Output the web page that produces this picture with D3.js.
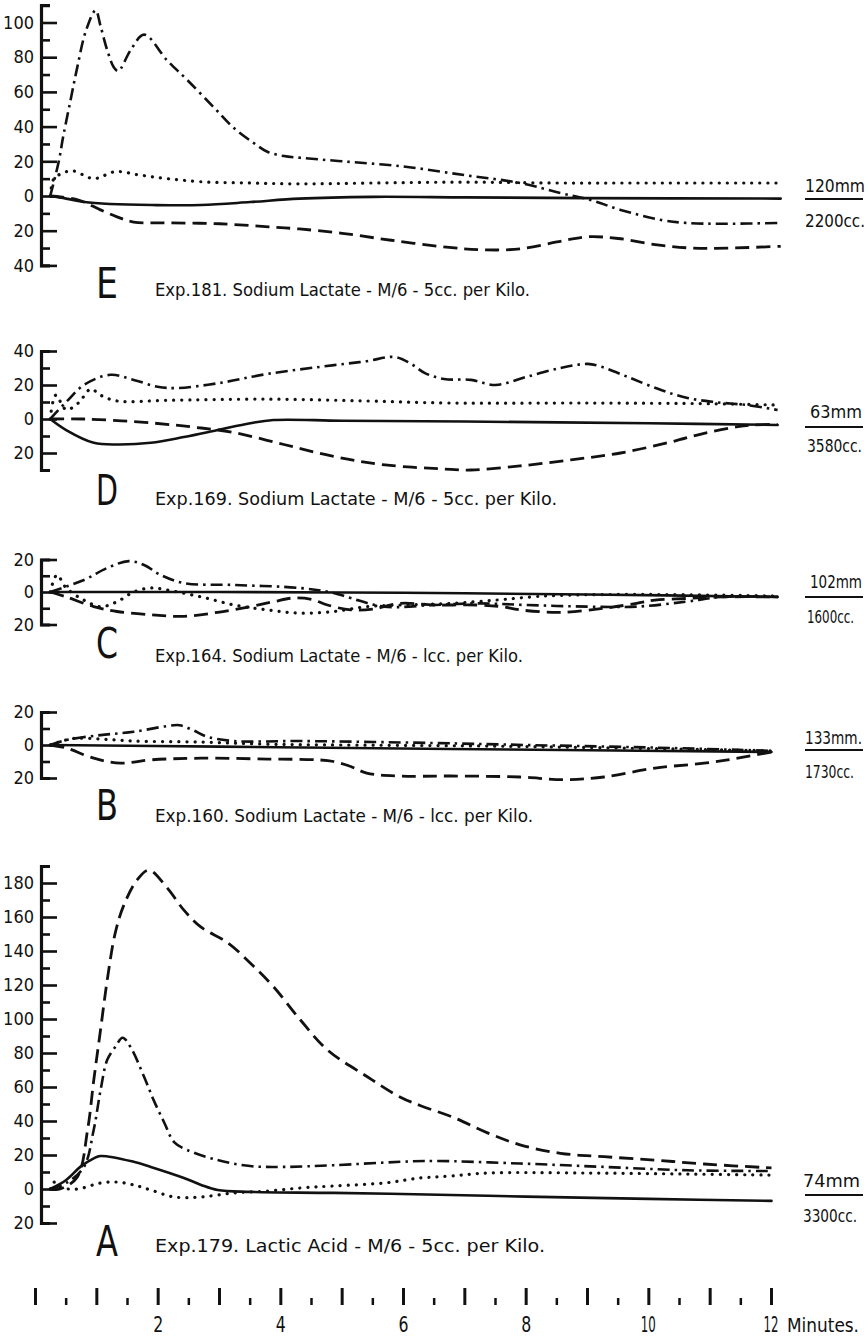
<!DOCTYPE html>
<html><head><meta charset="utf-8">
<script src="https://cdn.jsdelivr.net/npm/d3@7"></script>
<style>
html,body{margin:0;padding:0;background:#fff;}
svg{display:block;}
text{font-family:"DejaVu Sans Condensed","Liberation Sans Narrow",sans-serif;fill:#111;}
</style></head>
<body>
<script>
// ---------------- DATA (time in minutes, value in units) ----------------
const timeTicks = [0,0.5,1,1.5,2,2.5,3,3.5,4,4.5,5,5.5,6,6.5,7,7.5,8,8.5,9,9.5,10,10.5,11,11.5,12];
const timeLabels = [2,4,6,8,10,12];
const timeUnit = "Minutes.";

const panelLetters = ["E","D","C","B","A"];
const panelCaptions = [
  "Exp.181.  Sodium Lactate - M/6 - 5cc. per Kilo.",
  "Exp.169.  Sodium Lactate - M/6 - 5cc. per Kilo.",
  "Exp.164.  Sodium Lactate - M/6 - lcc. per Kilo.",
  "Exp.160.  Sodium Lactate - M/6 - lcc. per Kilo.",
  "Exp.179.  Lactic Acid - M/6 - 5cc. per Kilo."
];
const pressureLabels = ["120mm","63mm","102mm","133mm.","74mm"];
const volumeLabels = ["2200cc.","3580cc.","1600cc.","1730cc.","3300cc."];

const E_ticks = [-40,-30,-20,-10,0,10,20,30,40,50,60,70,80,90,100,110];
const E_labels = [-40,-20,0,20,40,60,80,100];
const D_ticks = [-30,-20,-10,0,10,20,30,40];
const D_labels = [-20,0,20,40];
const C_ticks = [-20,-10,0,10,20];
const C_labels = [-20,0,20];
const B_ticks = [-20,-10,0,10,20];
const B_labels = [-20,0,20];
const A_ticks = [-20,-10,0,10,20,30,40,50,60,70,80,90,100,110,120,130,140,150,160,170,180,190];
const A_labels = [-20,0,20,40,60,80,100,120,140,160,180];

// Panel E
const E_dashDot = [[0.24,0],[0.38,20],[0.45,34],[0.57,55],[0.68,74],[0.82,95],[0.98,107],[1.06,98],[1.17,84],[1.28,74],[1.35,72],[1.55,84],[1.77,93],[2.15,78],[2.47,67],[2.91,51],[3.24,39],[3.56,30.5],[3.78,25.5],[4.05,23],[4.32,22],[5,20],[6,17],[7,12],[7.9,7.5],[8.56,1.7],[9.05,-2.3],[9.54,-8],[10.2,-13.8],[10.6,-15.5],[11.2,-16],[12.15,-15.5]];
const E_dotted = [[0.24,0],[0.3,10],[0.4,12.5],[0.6,14.5],[0.95,10],[1.3,14],[1.71,12],[2.15,10],[2.7,8.2],[3.5,7.5],[4.3,7],[5.5,7.5],[7,8],[8.5,7.5],[10,7.5],[12.15,7.5]];
const E_solid = [[0.24,0],[0.5,-1.5],[0.8,-3.5],[1.22,-4.6],[1.9,-5.2],[2.7,-5.2],[3.5,-3.5],[4.3,-1.5],[5.5,-0.5],[7,-0.8],[9,-1.2],[12.15,-1.5]];
const E_dashed = [[0.24,0],[0.7,-2.3],[1.06,-8],[1.33,-12],[1.6,-15],[2.15,-15.5],[3,-16],[3.8,-17.8],[4.3,-19],[5,-21.5],[5.8,-25.5],[6.7,-29.5],[7.3,-31],[7.9,-30.5],[8.5,-26.5],[9,-23.5],[9.5,-24.5],[10.1,-28],[10.7,-30],[11.3,-30],[12.15,-29]];

// Panel D
const D_dashDot = [[0.24,0],[0.5,10],[0.79,20],[1.22,26],[1.6,23],[1.99,19],[2.3,18.2],[2.97,21],[3.78,26.5],[4.87,31.7],[5.4,34],[5.85,36.5],[6.1,33],[6.35,27],[6.66,23.5],[7.1,23],[7.5,20],[8.0,24.7],[8.56,30],[9.0,32.4],[9.2,31],[9.66,24.7],[10.2,17],[10.63,12.4],[11.06,10],[11.6,8.2],[12.1,5.3]];
const D_dotted = [[0.24,0],[0.33,14],[0.5,5.5],[0.7,9.4],[0.9,17.6],[1.06,14],[1.33,10.6],[2.15,11],[3.78,11.7],[5.4,10.6],[6.77,9.4],[9,9.4],[11,9],[12.1,8.2]];
const D_solid = [[0.24,0],[0.5,-6.5],[0.95,-14],[1.33,-15],[1.88,-14],[2.42,-10.6],[2.97,-6.5],[3.5,-2.5],[3.88,-0.6],[5,-1],[7,-1.5],[10,-2.5],[12.1,-3.5]];
const D_dashed = [[0.24,0],[0.79,0],[1.88,-2.3],[2.7,-5.3],[3.24,-8],[4.05,-15],[4.86,-22],[5.7,-27],[6.77,-29.6],[7.1,-30],[7.9,-27.6],[8.73,-24],[9.54,-20],[10.36,-13.5],[10.9,-8.4],[11.45,-4.5],[11.7,-3.5],[12.1,-3.2]];

// Panel C
const C_dashDot = [[0.24,0],[0.79,7.4],[1.17,14.8],[1.52,19],[1.77,16.6],[2.04,10.5],[2.42,5.5],[3.24,4.3],[4.3,2.5],[4.86,-0.6],[5.14,-3.7],[5.68,-9],[6.5,-8],[7.2,-7],[8,-8],[9,-9],[9.8,-9],[10.6,-6],[11.2,-3],[12.1,-3]];
const C_dotted = [[0.24,0],[0.35,10.5],[0.5,2.5],[0.79,-5],[1.06,-9],[1.33,-6],[1.6,0],[1.88,2.5],[2.15,1.2],[2.7,-3],[3.24,-8],[3.78,-11],[4.3,-13],[4.86,-12],[5.4,-9],[5.95,-8],[6.77,-7],[7.5,-5],[8.1,-3],[8.6,-2],[10,-1.5],[12.1,-2.5]];
const C_solid = [[0.24,0],[3,0],[6,-0.5],[9,-1.5],[12.1,-3]];
const C_dashed = [[0.24,0],[0.5,-3],[0.95,-9],[1.33,-12],[1.88,-14],[2.42,-15],[2.97,-12.5],[3.5,-9],[3.88,-6],[4.2,-3.7],[4.5,-4.5],[4.76,-8],[5.14,-11],[5.5,-10.5],[5.95,-7],[6.5,-8],[7.2,-8],[7.6,-9],[7.9,-11],[8.56,-12.5],[9.27,-10],[9.8,-7],[10.1,-5],[10.6,-4],[11.2,-3],[12.1,-3]];

// Panel B
const B_dashDot = [[0.24,0],[0.5,3],[1.06,6],[1.6,8],[2.15,11.5],[2.35,12],[2.57,9],[2.8,5],[3.24,2.4],[4.3,2.4],[6.5,1.2],[8,0],[10,-1.5],[12.0,-3.5]];
const B_dotted = [[0.24,0],[0.4,2],[0.63,4],[1.06,3.6],[1.6,2.4],[2.7,1.8],[3.78,0.5],[5,0],[7,-0.5],[9,-1.5],[12.0,-3.5]];
const B_solid = [[0.24,0],[3,-1],[6.77,-2.4],[12.0,-4.2]];
const B_dashed = [[0.24,0],[0.5,-1.8],[0.95,-8],[1.39,-11],[1.88,-9],[2.7,-8],[3.78,-8.5],[4.6,-9],[4.86,-10],[5.14,-13],[5.4,-17],[5.95,-18.8],[6.77,-18.8],[7.9,-19.4],[8.6,-21],[9.27,-19.4],[10.1,-14],[10.9,-11],[11.45,-8],[12.0,-4.2]];

// Panel A
const A_dashed = [[0.24,0],[0.4,0],[0.68,7],[0.85,35],[0.95,64],[1.06,93.5],[1.17,123],[1.3,150.6],[1.44,167],[1.66,182],[1.85,187.6],[2.15,177],[2.42,164],[2.7,154],[3.13,145],[3.5,133],[3.88,119],[4.32,99.4],[4.76,81.8],[5.41,66],[5.95,54],[6.28,49],[6.82,42],[7.37,33],[7.9,26],[8.56,21],[9.27,19],[10.1,17],[10.9,14.7],[12.0,12.4]];
const A_dashDot = [[0.24,0],[0.5,3.5],[0.79,13],[0.95,35],[1.06,58],[1.17,76],[1.3,83.5],[1.42,89],[1.55,83.5],[1.77,66],[1.93,52],[2.1,39],[2.26,27.6],[2.47,23],[2.97,17],[3.5,13.5],[4.05,13],[4.86,14],[5.95,16],[6.5,16.5],[7.9,15],[9.27,13],[10.63,11],[12.0,10.6]];
const A_solid = [[0.24,0],[0.5,5.3],[0.73,13],[0.95,18],[1.06,19.4],[1.6,16],[1.88,13],[2.42,6.5],[2.7,2.4],[2.97,-0.6],[3.5,-1.7],[4.86,-2.3],[6.77,-3.5],[8,-4.5],[10,-5.8],[12.0,-7]];
const A_dotted = [[0.24,0],[0.3,4],[0.4,1],[0.68,0],[1.06,3.5],[1.33,4.1],[1.6,2.4],[1.88,-0.6],[2.26,-4.7],[2.7,-4.7],[3.24,-2.3],[3.78,-1.2],[4.32,0.6],[4.86,1.8],[5.68,3.5],[6.28,6.5],[6.77,7.6],[7.37,9.4],[9,9.4],[10.63,8.8],[12.0,8.2]];

// ---------------- LAYOUT ----------------
const W = 868, H = 1341;
const svg = d3.select("body").append("svg").attr("width", W).attr("height", H);
const INK = "#111";
const FONT = '"DejaVu Sans Condensed","Liberation Sans Narrow",sans-serif';
const x = d3.scaleLinear().domain([0, 12]).range([35.5, 771.5]);

const styles = {
  solid:   {dash: null, w: 2.6, cap: "round"},
  dashed:  {dash: "14,7", w: 2.8, cap: "butt"},
  dashDot: {dash: "12,5,2.5,5", w: 2.6, cap: "butt"},
  dotted:  {dash: "0.1,8", w: 3.2, cap: "round"}
};

const panels = [
  {ticks:E_ticks, labels:E_labels, y0:196, ppu:1.735, series:{dashDot:E_dashDot, dotted:E_dotted, solid:E_solid, dashed:E_dashed},
   letterY:298, capY:296, capEnd:530, mmY:192, lineY:199, ccY:227, mmX:[805,865], ccX:[805,865]},
  {ticks:D_ticks, labels:D_labels, y0:419, ppu:1.7, series:{dashDot:D_dashDot, dotted:D_dotted, solid:D_solid, dashed:D_dashed},
   letterY:505, capY:505, capEnd:557, mmY:418, lineY:427, ccY:452, mmX:[810,862], ccX:[807,862]},
  {ticks:C_ticks, labels:C_labels, y0:592, ppu:1.625, series:{dashDot:C_dashDot, dotted:C_dotted, solid:C_solid, dashed:C_dashed},
   letterY:658, capY:662, capEnd:523, mmY:588, lineY:597, ccY:623, mmX:[810,862], ccX:[807,854]},
  {ticks:B_ticks, labels:B_labels, y0:745, ppu:1.65, series:{dashDot:B_dashDot, dotted:B_dotted, solid:B_solid, dashed:B_dashed},
   letterY:820, capY:822, capEnd:533, mmY:744, lineY:750, ccY:778, mmX:[805,862], ccX:[805,854]},
  {ticks:A_ticks, labels:A_labels, y0:1189, ppu:1.7, series:{dashed:A_dashed, dashDot:A_dashDot, solid:A_solid, dotted:A_dotted},
   letterY:1256, capY:1252, capEnd:545, mmY:1187, lineY:1195, ccY:1222, mmX:[803,860], ccX:[803,857]}
];

const axisX = 41;

panels.forEach((p, i) => {
  const lo = d3.min(p.ticks), hi = d3.max(p.ticks);
  const y = d3.scaleLinear().domain([lo, hi]).range([p.y0 - lo * p.ppu, p.y0 - hi * p.ppu]);
  const g = svg.append("g");

  const minor = d3.axisLeft(y).tickValues(p.ticks.filter(t => !p.labels.includes(t)))
    .tickSizeInner(-9).tickSizeOuter(-9).tickFormat("");
  const gMinor = g.append("g").attr("transform", `translate(${axisX},0)`).call(minor);
  const major = d3.axisLeft(y).tickValues(p.labels).tickSizeInner(-16).tickSizeOuter(0)
    .tickPadding(7).tickFormat(d => Math.abs(d));
  const gMajor = g.append("g").attr("transform", `translate(${axisX},0)`).call(major);
  gMajor.select(".domain").remove();
  [gMinor, gMajor].forEach(a => {
    a.selectAll("path.domain").attr("stroke", INK).attr("stroke-width", 3.2).attr("fill", "none");
    a.selectAll(".tick line").attr("stroke", INK).attr("stroke-width", 2.6);
    a.selectAll(".tick text").attr("font-size", 18).attr("fill", INK).attr("font-family", FONT);
  });

  const line = d3.line().x(d => x(d[0])).y(d => y(d[1])).curve(d3.curveCatmullRom.alpha(0.5));
  Object.entries(p.series).forEach(([k, data]) => {
    const s = styles[k];
    g.append("path").datum(data).attr("d", line)
      .attr("fill", "none").attr("stroke", INK).attr("stroke-width", s.w)
      .attr("stroke-linecap", s.cap).attr("stroke-linejoin", "round")
      .attr("stroke-dasharray", s.dash);
  });

  g.append("text").attr("x", 96).attr("y", p.letterY).attr("font-size", 42)
    .attr("textLength", 22).attr("lengthAdjust", "spacingAndGlyphs")
    .text(panelLetters[i]);
  g.append("text").attr("x", 155).attr("y", p.capY).attr("font-size", 17)
    .attr("textLength", p.capEnd - 155).attr("lengthAdjust", "spacingAndGlyphs")
    .text(panelCaptions[i]);
  g.append("text").attr("x", p.mmX[0]).attr("y", p.mmY).attr("font-size", 17)
    .attr("textLength", p.mmX[1] - p.mmX[0]).attr("lengthAdjust", "spacingAndGlyphs")
    .text(pressureLabels[i]);
  g.append("line").attr("x1", 805).attr("x2", 863).attr("y1", p.lineY).attr("y2", p.lineY)
    .attr("stroke", INK).attr("stroke-width", 2.2);
  g.append("text").attr("x", p.ccX[0]).attr("y", p.ccY).attr("font-size", 17)
    .attr("textLength", p.ccX[1] - p.ccX[0]).attr("lengthAdjust", "spacingAndGlyphs")
    .text(volumeLabels[i]);
});

// bottom time scale
const gx = svg.append("g");
gx.selectAll("line.t").data(timeTicks).join("line")
  .attr("x1", d => x(d)).attr("x2", d => x(d))
  .attr("y1", d => Number.isInteger(d) ? 1288 : 1298).attr("y2", 1305)
  .attr("stroke", INK).attr("stroke-width", d => Number.isInteger(d) ? 3 : 2.5);
gx.selectAll("text.t").data(timeLabels).join("text")
  .attr("x", d => x(d) - (d >= 10 ? 8 : 5)).attr("y", 1332)
  .attr("font-size", 22).attr("textLength", d => d >= 10 ? 15 : 10).attr("lengthAdjust", "spacingAndGlyphs")
  .text(d => d);
gx.append("text").attr("x", 787).attr("y", 1332).attr("font-size", 20)
  .attr("textLength", 72).attr("lengthAdjust", "spacingAndGlyphs").text(timeUnit);
</script>
</body></html>
